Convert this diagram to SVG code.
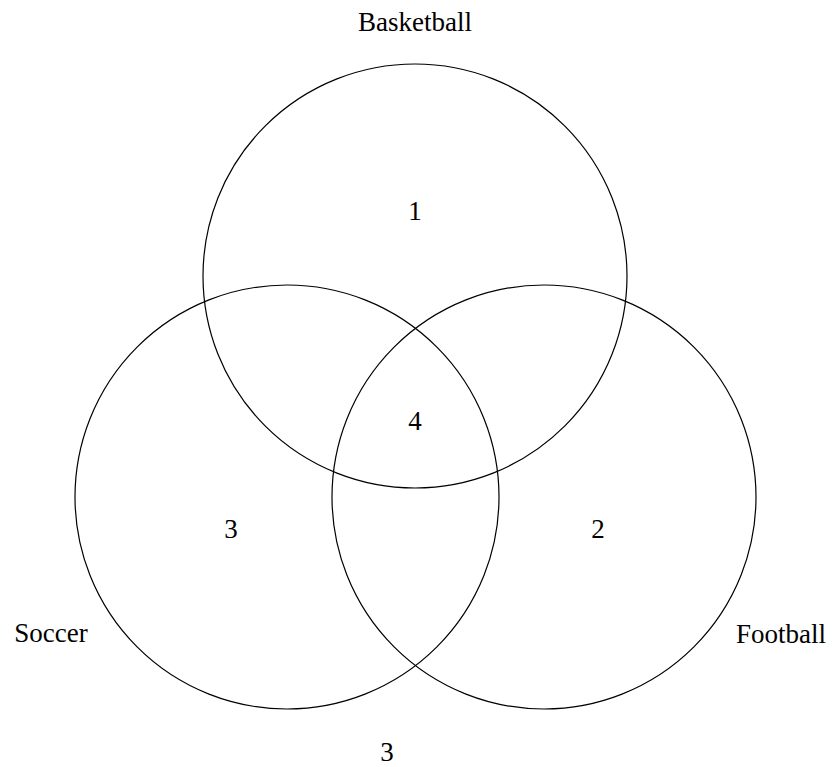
<svg xmlns="http://www.w3.org/2000/svg" width="833" height="767" viewBox="0 0 833 767">
<style>
.c{fill:none;stroke:#000;stroke-width:1.2}
text{font-family:"Liberation Serif","DejaVu Serif",serif;font-size:27px;fill:#000;text-anchor:middle}
</style>
<rect width="833" height="767" fill="#fff"/>
<g id="basketball"><circle class="c" cx="415" cy="276" r="212"/><text x="415" y="31">Basketball</text></g>
<g id="soccer"><circle class="c" cx="287" cy="497" r="212"/><text x="51" y="642">Soccer</text></g>
<g id="football"><circle class="c" cx="544" cy="497" r="212"/><text x="781" y="643">Football</text></g>
<g id="counts">
<text x="415" y="220">1</text>
<text x="415" y="430">4</text>
<text x="231" y="538">3</text>
<text x="598" y="538">2</text>
<text x="387" y="761">3</text>
</g>
<g id="connectors"></g>
</svg>
